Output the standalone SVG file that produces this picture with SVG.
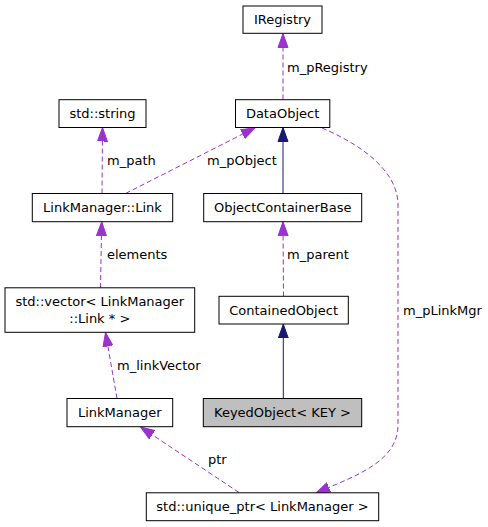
<svg xmlns="http://www.w3.org/2000/svg" width="488" height="527" viewBox="0 0 488 527">
<style>
.box{fill:#fff;stroke:#000;stroke-width:1}
.hl{fill:#bfbfbf;stroke:#000;stroke-width:1}
text{font-family:"DejaVu Sans","Liberation Sans",sans-serif;font-size:13px;fill:#000}
.c{text-anchor:middle}
.d{fill:none;stroke:#9a32cd;stroke-width:1;stroke-dasharray:5,3}
.s{fill:none;stroke:#191970;stroke-width:1}
</style>
<defs>
<marker id="ap" markerUnits="userSpaceOnUse" markerWidth="16" markerHeight="12" viewBox="0 -6 16 12" refX="14" refY="0" orient="auto"><path d="M0,-5 L14,0 L0,5 z" fill="#9a32cd" stroke="#9a32cd"/></marker>
<marker id="an" markerUnits="userSpaceOnUse" markerWidth="16" markerHeight="12" viewBox="0 -6 16 12" refX="14" refY="0" orient="auto"><path d="M0,-5 L14,0 L0,5 z" fill="#191970" stroke="#191970"/></marker>
</defs>
<g id="edges">
<path class="d" d="M283,99.5 L283,33.5" marker-end="url(#ap)"/>
<text x="287" y="71.5">m_pRegistry</text>
<path class="d" d="M102,193.5 L102.5,127.5" marker-end="url(#ap)"/>
<text x="107" y="165">m_path</text>
<path class="d" d="M125.5,193.5 L255,127.8" marker-end="url(#ap)"/>
<text x="207" y="165">m_pObject</text>
<path class="s" d="M283,193.5 L283,127.5" marker-end="url(#an)"/>
<path class="d" d="M322,128 C355,142 398,168 398,205 L398,425 C398,462 355,476 316,493" marker-end="url(#ap)"/>
<text x="403" y="315">m_pLinkMgr</text>
<path class="d" d="M283.5,296.5 L283,221.8" marker-end="url(#ap)"/>
<text x="287" y="258.5">m_parent</text>
<path class="d" d="M100.5,288 L101.7,221.8" marker-end="url(#ap)"/>
<text x="107" y="258.5">elements</text>
<path class="s" d="M283.3,398.5 L283.3,324.2" marker-end="url(#an)"/>
<path class="d" d="M117,398.5 L105.5,332.5" marker-end="url(#ap)"/>
<text x="117" y="370">m_linkVector</text>
<path class="d" d="M239,492.5 L140.5,427" marker-end="url(#ap)"/>
<text x="208" y="463.5">ptr</text>
</g>
<g id="IRegistry"><rect class="box" x="243" y="6" width="79" height="27.3"/><text class="c" x="282.5" y="24.3">IRegistry</text></g>
<g id="DataObject"><rect class="box" x="235.5" y="99.7" width="94.3" height="27.8"/><text class="c" x="282.6" y="118">DataObject</text></g>
<g id="std_string"><rect class="box" x="59" y="99.7" width="87" height="27.8"/><text class="c" x="102.5" y="118">std::string</text></g>
<g id="LinkManager_Link"><rect class="box" x="32.3" y="193.5" width="140.4" height="28.2"/><text class="c" x="102.5" y="212">LinkManager::Link</text></g>
<g id="ObjectContainerBase"><rect class="box" x="203.7" y="193.5" width="158" height="28.2"/><text class="c" x="282.7" y="212">ObjectContainerBase</text></g>
<g id="std_vector"><rect class="box" x="5" y="287.8" width="189.7" height="44.5"/><text class="c" x="99.8" y="306">std::vector&lt; LinkManager</text><text class="c" x="99.8" y="322.7">::Link * &gt;</text></g>
<g id="ContainedObject"><rect class="box" x="219" y="296.3" width="129.3" height="27.7"/><text class="c" x="283.6" y="314.6">ContainedObject</text></g>
<g id="LinkManager"><rect class="box" x="67" y="398.5" width="105.7" height="28.2"/><text class="c" x="119.8" y="417">LinkManager</text></g>
<g id="KeyedObject"><rect class="hl" x="203.3" y="398.5" width="158.4" height="28.2"/><text class="c" x="282.5" y="417">KeyedObject&lt; KEY &gt;</text></g>
<g id="std_unique_ptr"><rect class="box" x="146.3" y="492.8" width="232.4" height="27.9"/><text class="c" x="262.5" y="511.2">std::unique_ptr&lt; LinkManager &gt;</text></g>
</svg>
